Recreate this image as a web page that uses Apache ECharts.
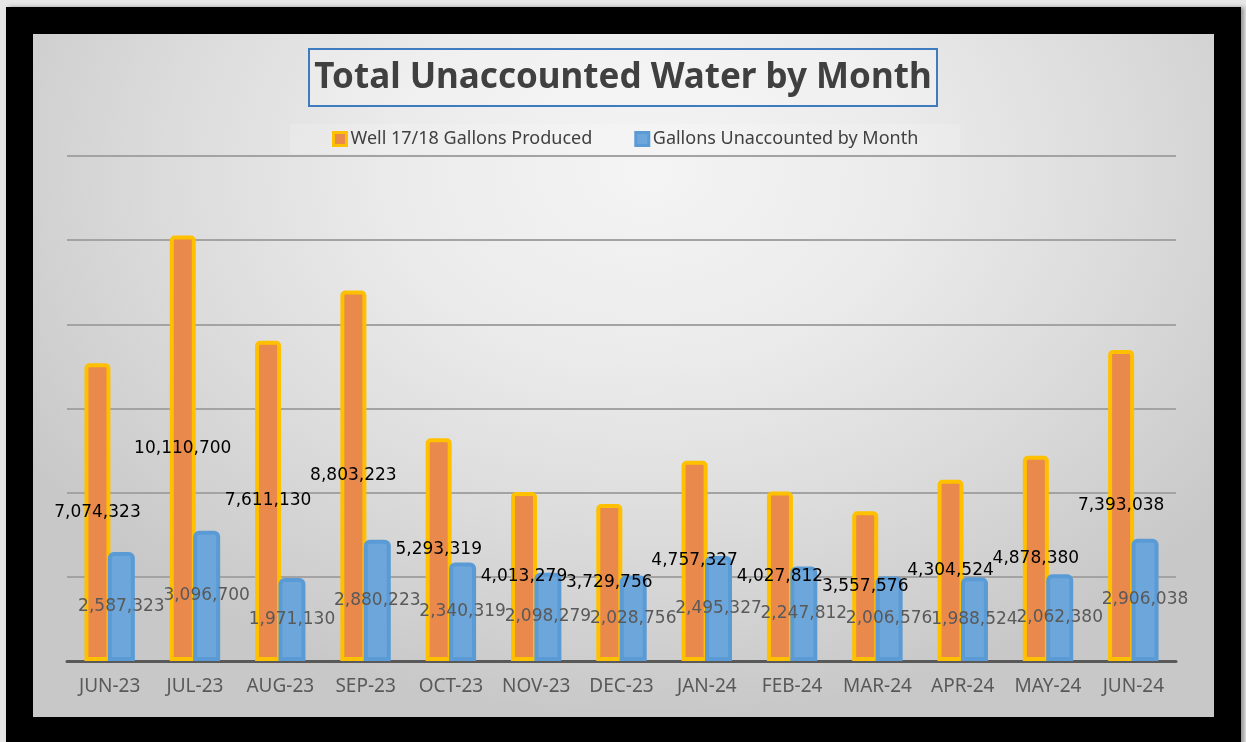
<!DOCTYPE html>
<html>
<head>
<meta charset="utf-8">
<script src="https://cdn.jsdelivr.net/npm/echarts@6/dist/echarts.min.js"></script>
<style>
html,body{margin:0;padding:0;width:1246px;height:742px;overflow:hidden;background:#e6e6e6;}
#frame{position:absolute;left:6px;top:7px;width:1235px;height:760px;background:#000;box-shadow:3px 0 4px rgba(0,0,0,0.35);}
#panel{position:absolute;left:33px;top:34px;width:1181px;height:683px;
background:radial-gradient(ellipse 62% 80% at 52% 20%, #f4f4f4 0%, #ebebeb 35%, #dcdcdc 65%, #c8c8c8 100%);}
#chart{position:absolute;left:0;top:0;width:1246px;height:742px;}
</style>
</head>
<body>
<div id="frame"></div>
<div id="panel"></div>
<div id="chart"></div>
<script>
const categories = ['JUN-23','JUL-23','AUG-23','SEP-23','OCT-23','NOV-23','DEC-23','JAN-24','FEB-24','MAR-24','APR-24','MAY-24','JUN-24'];
const produced = [7074323,10110700,7611130,8803223,5293319,4013279,3729756,4757327,4027812,3557576,4304524,4878380,7393038];
const unaccounted = [2587323,3096700,1971130,2880223,2340319,2098279,2028756,2495327,2247812,2006576,1988524,2062380,2906038];
const yTicks = [0,2000000,4000000,6000000,8000000,10000000,12000000];

const fmt = v => v.toLocaleString('en-US');
const chart = echarts.init(document.getElementById('chart'), null, {renderer:'canvas'});
chart.setOption({
  backgroundColor: 'transparent',
  animation: false,
  title: {
    text: 'Total Unaccounted Water by Month',
    left: 'center',
    top: 49,
    padding: [10, 6, 9, 6],
    borderColor: '#3f7cbf',
    borderWidth: 2,
    backgroundColor: 'rgba(255,255,255,0.25)',
    textStyle: {fontFamily: 'Noto Sans', fontWeight: 'bold', fontSize: 35, color: '#404040', lineHeight: 38}
  },
  legend: {
    left: 290,
    top: 124,
    padding: [6, 42, 6, 42],
    backgroundColor: 'rgba(255,255,255,0.15)',
    itemWidth: 13,
    itemHeight: 13,
    itemGap: 42,
    textStyle: {fontFamily: 'Noto Sans', fontSize: 18, color: '#404040', padding: [0,0,0,-1]},
    data: [
      {name: 'Well 17/18 Gallons Produced', icon: 'rect', itemStyle: {color: '#e9894b', borderColor: '#ffc000', borderWidth: 3}},
      {name: 'Gallons Unaccounted by Month', icon: 'rect', itemStyle: {color: '#6ca6da', borderColor: '#5b9bd5', borderWidth: 3}}
    ]
  },
  grid: {left: 67, right: 70, top: 156, bottom: 81},
  xAxis: {
    type: 'category',
    data: categories,
    axisLine: {lineStyle: {color: '#595959', width: 3}},
    axisTick: {show: false},
    axisLabel: {interval: 0, fontFamily: 'Noto Sans', fontSize: 19, color: '#595959', margin: 16}
  },
  yAxis: {
    type: 'value',
    min: yTicks[0],
    max: yTicks[yTicks.length-1],
    interval: yTicks[1]-yTicks[0],
    axisLabel: {show: false},
    axisLine: {show: false},
    axisTick: {show: false},
    splitLine: {lineStyle: {color: '#a3a3a3', width: 2}}
  },
  series: [
    {
      name: 'Well 17/18 Gallons Produced',
      type: 'bar',
      data: produced,
      barWidth: 26,
      barGap: '-10%',
      itemStyle: {color: '#e9894b', borderColor: '#ffc000', borderWidth: 4, borderRadius: [3,3,0,0]},
      label: {show: true, position: 'inside', formatter: p => fmt(p.value), color: '#000', fontFamily: 'DejaVu Sans', fontSize: 17, textBorderWidth: 0}
    },
    {
      name: 'Gallons Unaccounted by Month',
      type: 'bar',
      data: unaccounted,
      barWidth: 27,
      itemStyle: {color: '#6ca6da', borderColor: '#5b9bd5', borderWidth: 4, borderRadius: [4,4,0,0]},
      label: {show: true, position: 'inside', formatter: p => fmt(p.value), color: '#595959', fontFamily: 'DejaVu Sans', fontSize: 17, textBorderWidth: 0}
    }
  ]
});
</script>
</body>
</html>
